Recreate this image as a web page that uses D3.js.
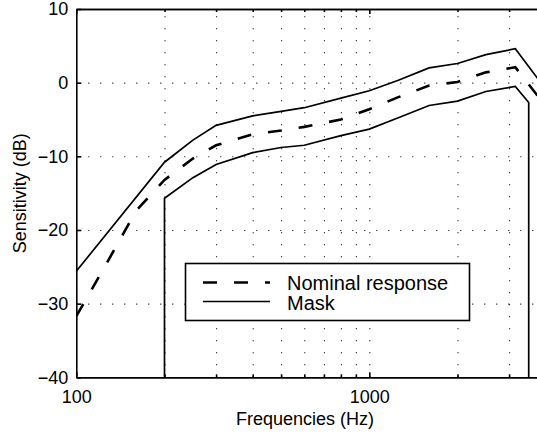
<!DOCTYPE html>
<html>
<head>
<meta charset="utf-8">
<script src="https://cdn.jsdelivr.net/npm/d3@7"></script>
<style>
  body { margin: 0; background: #fff; }
  svg { display: block; font-family: "Liberation Sans", Arial, sans-serif; }
  .grid line { stroke: #000; stroke-width: 1.1; stroke-dasharray: 1,11; }
  .grid path { display: none; }
  .ax path, .ax line { stroke: #000; stroke-width: 1.6; }
  .ax text { font-size: 18px; fill: #000; }
</style>
</head>
<body>
<svg width="537" height="436"></svg>
<script>
// nominal response
var nomFreq = [100, 125, 160, 200, 250, 300, 400, 500, 600, 800, 1000, 1250, 1600, 2000, 2500, 3150, 4000];
var nomDb   = [-31.7, -25, -17.4, -13.2, -10.3, -8.5, -7.0, -6.5, -6.0, -5.0, -3.6, -2.0, -0.4, 0.1, 1.4, 2.1, -3.2];

// mask, upper and lower limit
var upFreq = [100, 200, 250, 300, 400, 500, 600, 800, 1000, 1250, 1600, 2000, 2500, 3150, 4000];
var upDb   = [-25.6, -10.8, -7.8, -5.8, -4.5, -3.9, -3.4, -2.1, -1.1, 0.3, 2.0, 2.6, 3.8, 4.6, -0.9];
var loFreq = [200, 200, 250, 300, 400, 500, 600, 800, 1000, 1250, 1600, 2000, 2500, 3150, 3500, 3500];
var loDb   = [-40, -15.7, -12.9, -11.1, -9.5, -8.8, -8.5, -7.2, -6.3, -4.8, -3.1, -2.5, -1.2, -0.5, -2.7, -40];

var xMajor = [100, 1000];
var xMinor = [200, 300, 400, 500, 600, 700, 800, 900, 2000, 3000];
var xGrid = [200, 300, 400, 500, 600, 700, 800, 900, 1000, 2000, 3000];
var yTicks = [-40, -30, -20, -10, 0, 10];
var legendLabels = ["Nominal response", "Mask"];

var svg = d3.select("svg");
var m = {l: 76.3, t: 9, b: 377.3};
m.r = m.l + 293 * Math.log10(40);

var x = d3.scaleLog().domain([100, 4000]).range([m.l, m.r]);
var y = d3.scaleLinear().domain([-40, 10]).range([m.b, m.t]);

svg.append("rect").attr("width", 537).attr("height", 436).attr("fill", "#fff");

// dotted grid
svg.append("g").attr("class", "grid")
  .attr("transform", "translate(0," + m.b + ")")
  .call(d3.axisBottom(x).tickValues(xGrid).tickSizeInner(-(m.b - m.t)).tickSizeOuter(0).tickFormat(""));
svg.append("g").attr("class", "grid")
  .attr("transform", "translate(" + m.l + ",0)")
  .call(d3.axisLeft(y).tickValues(yTicks.slice(1, -1)).tickSizeInner(-(m.r - m.l)).tickSizeOuter(0).tickFormat(""));

svg.append("clipPath").attr("id", "clip")
  .append("rect").attr("x", m.l).attr("y", m.t).attr("width", m.r - m.l).attr("height", m.b - m.t);

var line = d3.line()
  .x(function (d) { return x(d[0]); })
  .y(function (d) { return y(d[1]); });

var plot = svg.append("g").attr("clip-path", "url(#clip)");

plot.append("path")
  .datum(d3.zip(upFreq, upDb))
  .attr("d", line).attr("fill", "none").attr("stroke", "#000").attr("stroke-width", 1.7);
plot.append("path")
  .datum(d3.zip(loFreq, loDb))
  .attr("d", line).attr("fill", "none").attr("stroke", "#000").attr("stroke-width", 1.7);
plot.append("path")
  .datum(d3.zip(nomFreq, nomDb))
  .attr("d", line).attr("fill", "none").attr("stroke", "#000").attr("stroke-width", 2.6)
  .attr("stroke-dasharray", "14,17");

// axes, ticks inward like the original
svg.append("g").attr("class", "ax")
  .attr("transform", "translate(0," + m.b + ")")
  .call(d3.axisBottom(x).tickValues(xMajor).tickSizeInner(-5).tickSizeOuter(0).tickPadding(13).tickFormat(d3.format("d")));
svg.append("g").attr("class", "ax")
  .attr("transform", "translate(0," + m.b + ")")
  .call(d3.axisBottom(x).tickValues(xMinor).tickSizeInner(-3).tickSizeOuter(0).tickFormat(""));
svg.append("g").attr("class", "ax")
  .attr("transform", "translate(0," + m.t + ")")
  .call(d3.axisTop(x).tickValues(xMajor).tickSizeInner(-5).tickSizeOuter(0).tickFormat(""));
svg.append("g").attr("class", "ax")
  .attr("transform", "translate(0," + m.t + ")")
  .call(d3.axisTop(x).tickValues(xMinor).tickSizeInner(-3).tickSizeOuter(0).tickFormat(""));
svg.append("g").attr("class", "ax")
  .attr("transform", "translate(" + m.l + ",0)")
  .call(d3.axisLeft(y).tickValues(yTicks).tickSizeInner(-5).tickSizeOuter(0).tickPadding(8).tickFormat(d3.format("d")));
svg.append("g").attr("class", "ax")
  .attr("transform", "translate(" + m.r + ",0)")
  .call(d3.axisRight(y).tickValues(yTicks).tickSizeInner(-5).tickSizeOuter(0).tickFormat(""));

// axis titles
svg.append("text")
  .attr("x", (m.l + m.r) / 2 - 6).attr("y", 425)
  .attr("text-anchor", "middle").attr("font-size", 18)
  .text("Frequencies (Hz)");
svg.append("text")
  .attr("transform", "translate(26," + ((m.t + m.b) / 2) + ") rotate(-90)")
  .attr("text-anchor", "middle").attr("font-size", 18)
  .text("Sensitivity (dB)");

// legend
var lg = svg.append("g");
lg.append("rect")
  .attr("x", 185.5).attr("y", 263.5).attr("width", 284).attr("height", 57)
  .attr("fill", "#fff").attr("stroke", "#000").attr("stroke-width", 1.6);
lg.append("line")
  .attr("x1", 203).attr("x2", 270).attr("y1", 282.5).attr("y2", 282.5)
  .attr("stroke", "#000").attr("stroke-width", 2.6).attr("stroke-dasharray", "14,17");
lg.append("line")
  .attr("x1", 203).attr("x2", 270).attr("y1", 301.5).attr("y2", 301.5)
  .attr("stroke", "#000").attr("stroke-width", 1.7);
lg.selectAll("text.lab")
  .data(legendLabels)
  .enter().append("text")
  .attr("class", "lab")
  .attr("x", 287).attr("y", function (d, i) { return 289.5 + i * 20; })
  .attr("font-size", 20)
  .text(function (d) { return d; });
</script>
</body>
</html>
